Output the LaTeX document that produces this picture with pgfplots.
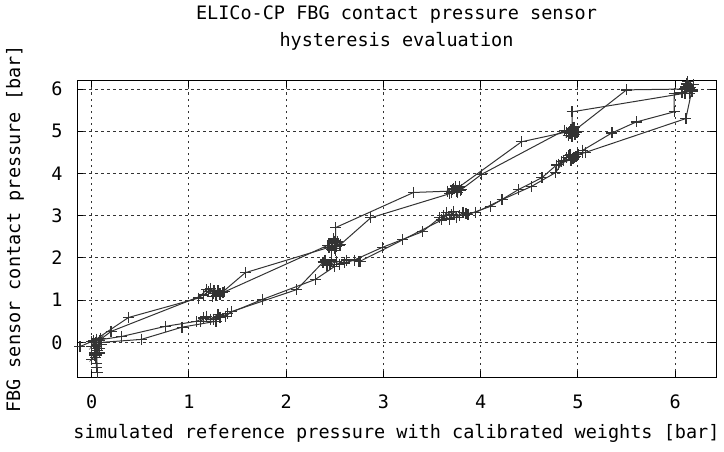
\documentclass[border=0pt]{standalone}
\usepackage{fontspec}
\setmainfont{DejaVu Sans Mono}
\usepackage{pgfplots}
\pgfplotsset{compat=1.18}
\definecolor{curve}{HTML}{333333}
\newcommand\gfont{\fontsize{18.5bp}{27bp}\selectfont}

\begin{document}
\begin{tikzpicture}
\begin{axis}[
  scale only axis, width=639bp, height=296bp,
  xmin=-0.15, xmax=6.42, ymin=-0.82, ymax=6.19,
  xtick={0,...,6}, ytick={0,...,6},
  grid=major,
  major grid style={black!80, line width=1bp, dash pattern=on 2.5bp off 3.5bp},
  tick align=inside, major tick length=6bp,
  tick style={black, line width=1bp},
  axis line style={line width=1bp},
  clip=false,
  /pgf/number format/assume math mode=true,
  ticklabel style={font=\gfont},
  xticklabel style={anchor=center, yshift=-25bp},
  yticklabel style={anchor=center, xshift=-20bp},
  title={ELICo-CP FBG contact pressure sensor\\hysteresis evaluation},
  title style={at={(axis description cs:0.5,1.16)}, anchor=center, align=center, font=\gfont},
  xlabel={simulated reference pressure with calibrated weights [bar]},
  xlabel style={at={(axis description cs:0.5,-0.189)}, anchor=center, font=\gfont},
  ylabel={FBG sensor contact pressure [bar]},
  ylabel style={at={(axis description cs:-0.097,0.5)}, anchor=center, font=\gfont},
  hyst/.style={draw=curve, line width=1bp, mark=+, mark size=5.5bp, mark options={solid, draw=curve, line width=1.3bp}},
]
% cycle 1
\addplot[hyst] coordinates {
  (-0.12,-0.1) (0.0,0.02) (0.04,-0.1) (0.05,-0.3) (0.05,-0.5) (0.05,-0.6) (0.06,-0.72)
  (0.05,-0.15) (0.03,-0.25) (0.07,-0.05) (0.08,0.05) (0.2,0.26)
  (1.15,1.12) (1.2,1.2) (1.25,1.15) (1.3,1.22) (1.22,1.28) (1.35,1.18) (1.28,1.1) (1.32,1.14)
  (1.58,1.65)
  (2.44,2.25) (2.48,2.35) (2.52,2.28) (2.5,2.4) (2.55,2.3) (2.47,2.2) (2.51,2.17)
  (2.51,2.72) (3.31,3.55)
  (3.66,3.58) (3.72,3.65) (3.76,3.55) (3.74,3.7) (3.8,3.62) (3.7,3.55)
  (4.42,4.75)
  (4.88,4.98) (4.93,5.05) (4.97,4.92) (4.95,5.08) (5.0,5.0) (4.9,4.9)
  (5.5,5.98)
  (6.1,6.0) (6.14,6.08) (6.18,5.95) (6.12,6.12) (6.16,6.03) (6.07,5.92) (6.15,5.9)
  (5.99,5.9) (5.99,5.46) (5.6,5.22) (5.35,4.96) (5.05,4.55)
  (5.05,4.5) (4.98,4.4) (4.92,4.45) (4.85,4.3) (4.95,4.35) (4.8,4.22) (4.88,4.38)
  (4.77,4.02) (4.52,3.69) (4.22,3.38) (3.95,3.08)
  (3.85,3.05) (3.78,3.0) (3.72,3.1) (3.68,2.92) (3.62,3.0) (3.58,2.95)
  (3.4,2.62) (2.99,2.25)
  (2.7,1.95) (2.6,1.88) (2.52,1.92) (2.45,1.85) (2.4,1.95) (2.5,1.8)
  (2.3,1.49) (1.76,1.02)
  (1.4,0.68) (1.32,0.6) (1.25,0.55) (1.18,0.62) (1.12,0.5) (1.28,0.5)
  (0.93,0.36) (0.51,0.07) (0.1,0.0)
  (0.05,-0.05) (0.02,0.05) (0.08,-0.15) (0.1,-0.05) (0.04,-0.35)
};
% cycle 2
\addplot[hyst] coordinates {
  (0.02,0.0) (0.09,0.1) (0.0,-0.1) (0.05,0.08) (0.38,0.59)
  (1.1,1.05) (1.18,1.25) (1.26,1.22) (1.32,1.15) (1.24,1.08) (1.37,1.2)
  (2.43,2.3) (2.5,2.22) (2.53,2.38) (2.49,2.45) (2.56,2.32)
  (2.87,2.95)
  (3.68,3.52) (3.71,3.62) (3.78,3.68) (3.75,3.58) (3.79,3.6)
  (4.01,3.98)
  (4.86,5.02) (4.92,4.95) (4.96,5.1) (4.99,4.98) (4.94,4.88)
  (4.94,5.46)
  (6.1,5.9) (6.15,6.0) (6.19,6.1) (6.13,6.17) (6.11,6.05) (6.17,5.95)
  (6.11,5.3)
  (5.08,4.5) (5.0,4.45) (4.93,4.3) (4.9,4.42) (4.83,4.28) (4.96,4.38) (4.78,4.2)
  (4.63,3.9) (4.39,3.62) (4.1,3.22) (3.87,3.03)
  (3.82,3.08) (3.75,2.95) (3.7,3.02) (3.65,3.08) (3.6,2.9)
  (3.2,2.43) (2.76,1.92)
  (2.75,1.92) (2.62,1.95) (2.55,1.85) (2.47,1.95) (2.42,1.82) (2.38,1.9)
  (2.11,1.25) (1.44,0.73)
  (1.38,0.62) (1.3,0.66) (1.22,0.55) (1.15,0.58) (1.08,0.5)
  (0.76,0.38) (0.31,0.14) (0.05,0.05)
  (0.04,0.0) (0.06,-0.2) (0.03,-0.3) (0.0,-0.4) (0.08,-0.25)
};
\end{axis}
\pgfresetboundingbox
\path ([shift={(-77bp,-74bp)}]current axis.south west) rectangle ([shift={(8bp,81bp)}]current axis.north east);
\end{tikzpicture}
\end{document}
